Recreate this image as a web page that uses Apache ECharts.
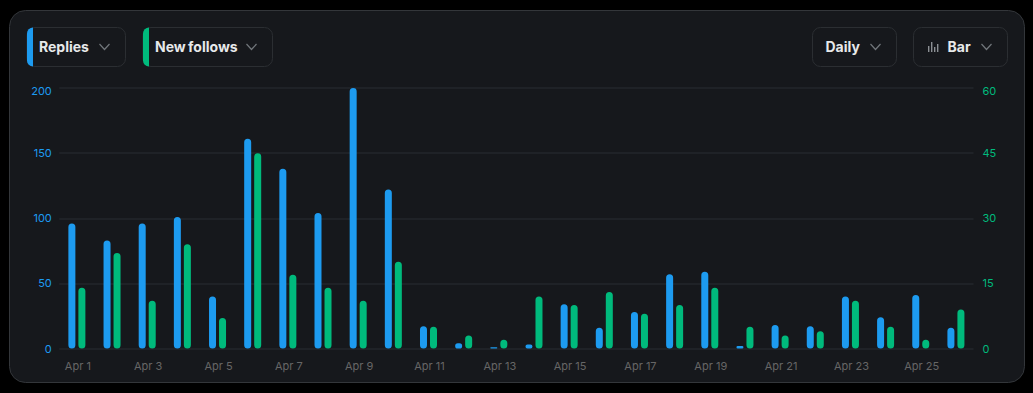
<!DOCTYPE html>
<html><head><meta charset="utf-8">
<style>html,body{margin:0;padding:0;background:#000;overflow:hidden}#c{width:1033px;height:393px}
#c text[style*="14px"]{word-spacing:-1px}</style>
<script src="https://cdn.jsdelivr.net/npm/echarts@6/dist/echarts.min.js"></script>
</head><body><div id="c"></div>
<script>
const categories = ['Apr 1','Apr 2','Apr 3','Apr 4','Apr 5','Apr 6','Apr 7','Apr 8','Apr 9','Apr 10','Apr 11','Apr 12','Apr 13','Apr 14','Apr 15','Apr 16','Apr 17','Apr 18','Apr 19','Apr 20','Apr 21','Apr 22','Apr 23','Apr 24','Apr 25','Apr 26'];
const replies = [96,83,96,101,40,161,138,104,200,122,17,4,1,3,34,16,28,57,59,2,18,17,40,24,41,16];
const newFollows = [14,22,11,24,7,45,17,14,11,20,5,3,2,12,10,13,8,10,14,5,3,4,11,5,2,9];
const BLUE='#1d9bf0', GREEN='#00ba7c', FONT='Inter, sans-serif';
const chart = echarts.init(document.getElementById('c'), null, {renderer:'svg'});
function pill(x,y,w,h){return {type:'rect',z:-1,shape:{x,y,width:w,height:h,r:8},style:{fill:'#16181c',stroke:'#2b2e32',lineWidth:1}};}
function strip(x,y,h,c){return {type:'rect',shape:{x,y,width:6,height:h,r:[8,0,0,8]},style:{fill:c}};}
function label(x,t){return {type:'text',x,y:46,style:{text:t,fill:'#e7e9ea',font:'700 14px '+FONT,textAlign:'left',textVerticalAlign:'middle'}};}
function chev(x){return {type:'polyline',shape:{points:[[x,44],[x+5,49.5],[x+10,44]]},style:{stroke:'#71767b',fill:null,lineWidth:1.2}};}
function ibar(x,y,h){return {type:'rect',shape:{x,y,width:1.4,height:h},style:{fill:'#8b8f94'}};}
chart.setOption({
  animation:false,
  backgroundColor:'#000',
  graphic:[
    {type:'rect',z:-2,shape:{x:9.5,y:10.5,width:1015,height:372,r:16},style:{fill:'#16181c',stroke:'#33363a',lineWidth:1}},
    pill(27,27.5,98.5,39), strip(27,27.5,39,BLUE), label(39,'Replies'), chev(99.5),
    pill(143,27.5,129.5,39), strip(143,27.5,39,GREEN), label(155,'New follows'), chev(246.5),
    pill(812.5,27.5,84,39), label(825.5,'Daily'), chev(870.5),
    pill(913.5,27.5,94,39), label(947.5,'Bar'), chev(981.5),
    ibar(928,46,6), ibar(931,42,10), ibar(934,47,5), ibar(937,44,8)
  ],
  grid:{left:59.3,right:59.5,top:88,bottom:44.5,containLabel:false},
  xAxis:{type:'category',data:categories,
    axisLine:{show:false},axisTick:{show:false},splitLine:{show:false},
    axisLabel:{color:'#666666',fontFamily:FONT,fontSize:11,interval:1,margin:12,padding:[0,0,0,2]}},
  yAxis:[
    {type:'value',min:0,max:200,interval:50,
      axisLine:{show:false},axisTick:{show:false},
      splitLine:{show:true,lineStyle:{color:'#23262b',width:1.5}},
      axisLabel:{color:BLUE,fontFamily:FONT,fontSize:11,margin:7.5,lineHeight:6,verticalAlignMaxLabel:'top'}},
    {type:'value',min:0,max:60,interval:15,position:'right',
      axisLine:{show:false},axisTick:{show:false},splitLine:{show:false},
      axisLabel:{color:GREEN,fontFamily:FONT,fontSize:11,margin:9,lineHeight:6,verticalAlignMaxLabel:'top'}}
  ],
  series:[
    {name:'Replies',type:'bar',yAxisIndex:0,data:replies,barWidth:7,barGap:'43%',itemStyle:{color:BLUE,borderRadius:3.5}},
    {name:'New follows',type:'bar',yAxisIndex:1,data:newFollows,barWidth:7,itemStyle:{color:GREEN,borderRadius:3.5}}
  ]
});
</script></body></html>
